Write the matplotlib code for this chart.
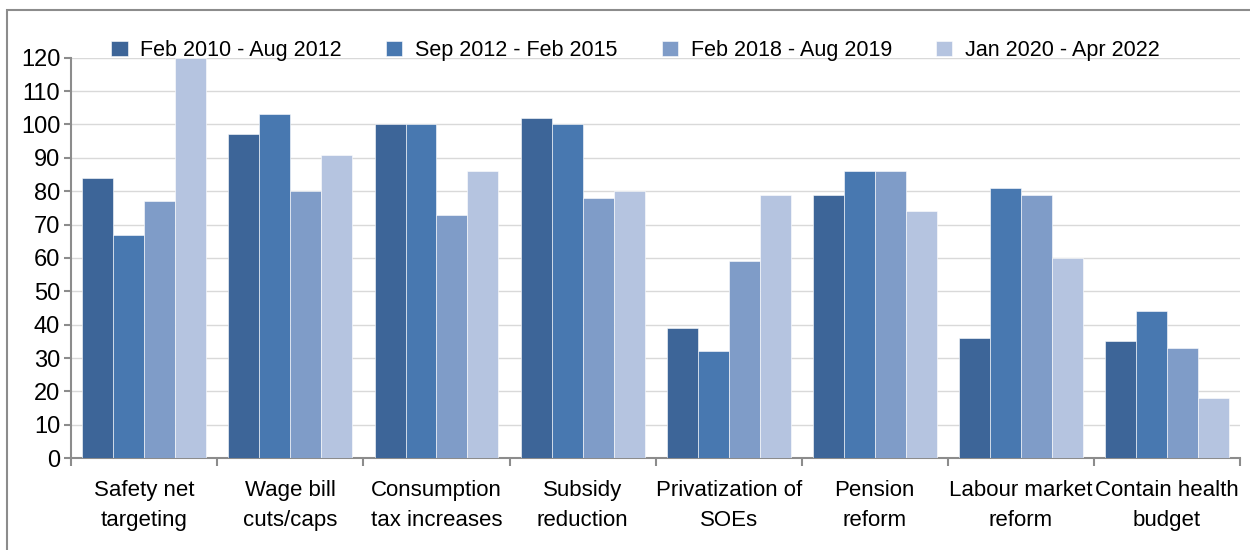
import numpy as np
import matplotlib.pyplot as plt
from matplotlib.patches import Rectangle

plt.rcParams['font.family'] = ['Liberation Sans', 'DejaVu Sans']

categories = ["Safety net\ntargeting", "Wage bill\ncuts/caps", "Consumption\ntax increases",
              "Subsidy\nreduction", "Privatization of\nSOEs", "Pension\nreform",
              "Labour market\nreform", "Contain health\nbudget"]
periods = ["Feb 2010 - Aug 2012", "Sep 2012 - Feb 2015", "Feb 2018 - Aug 2019", "Jan 2020 - Apr 2022"]
p1 = [84, 97, 100, 102, 39, 79, 36, 35]
p2 = [67, 103, 100, 100, 32, 86, 81, 44]
p3 = [77, 80, 73, 78, 59, 86, 79, 33]
p4 = [120, 91, 86, 80, 79, 74, 60, 18]
colors = ['#3D6598', '#4878B0', '#7F9CC8', '#B5C4E0']

fig = plt.figure(figsize=(12.5, 5.5), dpi=100)
ax = fig.add_axes([0.057, 0.167, 0.935, 0.728])

# outer frame of the figure
fig.patches.append(Rectangle((0.0056, -0.05), 1.0, 1.032, transform=fig.transFigure,
                             fill=False, edgecolor='#8C8C8C', linewidth=1.5))

x = np.arange(len(categories))
w = 0.212
for i, (vals, lab) in enumerate(zip([p1, p2, p3, p4], periods)):
    ax.bar(x + (i - 1.5) * w, vals, w, color=colors[i], label=lab,
           edgecolor='white', linewidth=0.4, zorder=3)

ax.set_xlim(-0.5, len(categories) - 0.5)
ax.set_ylim(0, 120)
ax.set_yticks(range(0, 121, 10))
ax.yaxis.grid(True, color='#D9D9D9', linewidth=1, zorder=0)
ax.set_axisbelow(True)

ax.set_xticks(np.arange(-0.5, len(categories), 1.0))
ax.set_xticklabels([])
ax.set_xticks(x, minor=True)
ax.set_xticklabels(categories, minor=True, fontsize=16, linespacing=1.55)
ax.tick_params(axis='x', which='minor', length=0, pad=16)
ax.tick_params(axis='x', which='major', length=6, color='#8C8C8C', width=1.5)
ax.tick_params(axis='y', labelsize=17, length=5, color='#8C8C8C', width=1.5, pad=3)

for s in ['top', 'right']:
    ax.spines[s].set_visible(False)
for s in ['left', 'bottom']:
    ax.spines[s].set_color('#8C8C8C')
    ax.spines[s].set_linewidth(1.5)

ax.legend(loc='upper center', bbox_to_anchor=(0.483, 1.0925), ncol=4, frameon=False,
          fontsize=15.5, handlelength=0.75, handleheight=0.75, columnspacing=2.05,
          handletextpad=0.6)

fig.savefig('out.png', dpi=100)
